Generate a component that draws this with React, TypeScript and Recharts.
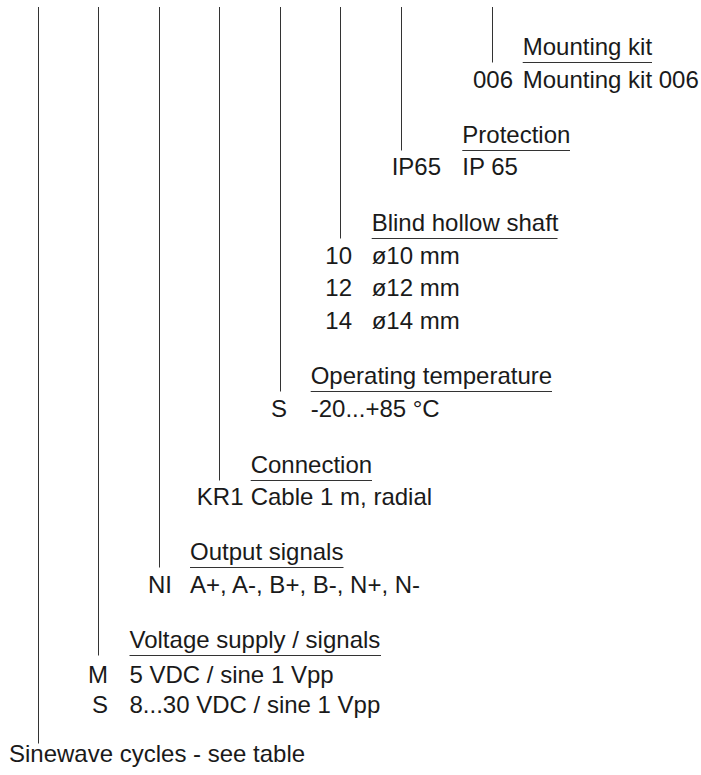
import { ScatterChart, Scatter, XAxis, YAxis, ReferenceLine } from 'recharts';

// ordering key: one group per code position, right to left
const groupTitles = [
  'Mounting kit',
  'Protection',
  'Blind hollow shaft',
  'Operating temperature',
  'Connection',
  'Output signals',
  'Voltage supply / signals',
];
const groupCodes = [['006'], ['IP65'], ['10', '12', '14'], ['S'], ['KR1'], ['NI'], ['M', 'S']];
const groupOptions = [
  ['Mounting kit 006'],
  ['IP 65'],
  ['ø10 mm', 'ø12 mm', 'ø14 mm'],
  ['-20...+85 °C'],
  ['Cable 1 m, radial'],
  ['A+, A-, B+, B-, N+, N-'],
  ['5 VDC / sine 1 Vpp', '8...30 VDC / sine 1 Vpp'],
];
const baseLabel = 'Sinewave cycles - see table';

// layout in page pixels (chart sits at 0,0 with a 1:1 scale)
const layout = [
  { leader: 492.5, left: 522.7, rule: 62.5, right: 652, code: 513, row: 88, step: 32 },
  { leader: 401.5, left: 462.3, rule: 150.5, right: 570, code: 441, row: 175, step: 32 },
  { leader: 340.5, left: 371.7, rule: 238.5, right: 557.5, code: 352, row: 264.3, step: 32.1 },
  { leader: 280.5, left: 310.7, rule: 391.5, right: 552, code: 287, row: 416.7, step: 32 },
  { leader: 219.5, left: 250.7, rule: 480.5, right: 372, code: 243.5, row: 505, step: 32 },
  { leader: 159.5, left: 190, rule: 567.5, right: 343.5, code: 172, row: 593.3, step: 32 },
  { leader: 98.5, left: 129.5, rule: 655.5, right: 381, code: 108, row: 683.3, step: 29.4 },
];
const baseLeader = { x: 38.5, bottom: 743.5, labelX: 9, labelY: 761.7 };
const topY = 7;

const W = 701;
const H = 775;
const FONT = '"Liberation Sans", Arial, sans-serif';

type Label = { x: number; y: number; text: string; anchor: 'start' | 'end' };

const labels: Label[] = [];
groupTitles.forEach((title, g) => {
  const l = layout[g];
  labels.push({ x: l.left, y: l.rule - 7.5, text: title, anchor: 'start' });
  groupCodes[g].forEach((code, i) => {
    const y = l.row + i * l.step;
    labels.push({ x: l.code, y, text: code, anchor: 'end' });
    labels.push({ x: l.left, y, text: groupOptions[g][i], anchor: 'start' });
  });
});
labels.push({ x: baseLeader.labelX, y: baseLeader.labelY, text: baseLabel, anchor: 'start' });

const TextMark = (props: any) => {
  const { cx, cy, payload } = props;
  return (
    <text x={cx} y={cy} textAnchor={payload.anchor} fontFamily={FONT} fontSize={24} fill="#1a1a1a">
      {payload.text}
    </text>
  );
};

export default function App() {
  return (
    <div style={{ position: 'absolute', left: 0, top: 0, width: W, height: H, background: '#fff' }}>
      <ScatterChart width={W} height={H} margin={{ top: 0, right: 0, bottom: 0, left: 0 }}>
        <XAxis type="number" dataKey="x" domain={[0, W]} hide />
        <YAxis type="number" dataKey="y" domain={[0, H]} reversed hide />
        {layout.map((l, i) => (
          <ReferenceLine
            key={'leader' + i}
            segment={[{ x: l.leader, y: topY }, { x: l.leader, y: l.rule }]}
            stroke="#333"
            strokeWidth={1}
          />
        ))}
        <ReferenceLine
          segment={[{ x: baseLeader.x, y: topY }, { x: baseLeader.x, y: baseLeader.bottom }]}
          stroke="#333"
          strokeWidth={1}
        />
        {layout.map((l, i) => (
          <ReferenceLine
            key={'rule' + i}
            segment={[{ x: l.left, y: l.rule }, { x: l.right, y: l.rule }]}
            stroke="#333"
            strokeWidth={1.2}
          />
        ))}
        <Scatter data={labels} shape={<TextMark />} isAnimationActive={false} />
      </ScatterChart>
    </div>
  );
}
